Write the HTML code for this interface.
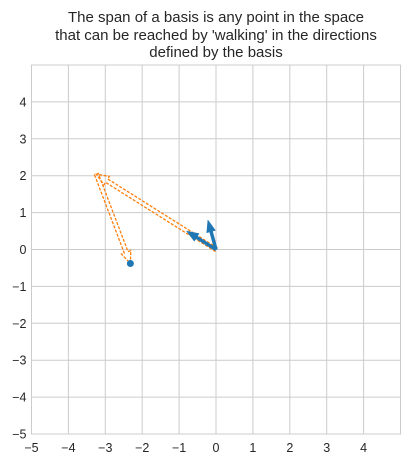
<!DOCTYPE html>
<html><head><meta charset="utf-8"><style>
body{margin:0;background:#fff;font-family:"Liberation Sans",sans-serif}
svg text{font-family:"Liberation Sans",sans-serif;fill:#262626}
</style></head><body>
<svg id="chart" width="410" height="463">
<g id="title">
<text x="216" y="22" font-size="15" text-anchor="middle">The span of a basis is any point in the space</text>
<text x="216" y="40" font-size="15" text-anchor="middle">that can be reached by 'walking' in the directions</text>
<text x="216" y="57" font-size="15" text-anchor="middle">defined by the basis</text>
</g>
<g id="grid"></g><g id="marks"></g><g id="ticks"></g>
</svg>
<script>
const ticks=[-5,-4,-3,-2,-1,0,1,2,3,4];
const basisX=[-0.8,-0.22];
const basisY=[0.5,0.8];
const walkX=[0,-3.24,-2.32];
const walkY=[0,2.04,-0.38];
const L=31.5,R=400.5,T=65,B=434;
const sx=v=>L+(v+5)/10*(R-L), sy=v=>B-(v+5)/10*(B-T);
const NS="http://www.w3.org/2000/svg";
function mk(t,a,p){const e=document.createElementNS(NS,t);for(const k in a)e.setAttribute(k,a[k]);p.appendChild(e);return e;}
const g=document.getElementById('grid'),m=document.getElementById('marks'),tk=document.getElementById('ticks');
ticks.forEach(v=>{
 const lx=mk('line',{x1:sx(v),x2:sx(v),y1:T,y2:B,stroke:'#cccccc','stroke-width':1},g);
 
 
 const ly=mk('line',{x1:L,x2:R,y1:sy(v),y2:sy(v),stroke:'#cccccc','stroke-width':1},g);
 
 
 const tx=mk('text',{x:sx(v),y:B+18,'font-size':12.5,'text-anchor':'middle'},tk);tx.textContent=String(v).replace('-','\u2212');
 
 
 const ty=mk('text',{x:L-5,y:sy(v)+4.5,'font-size':12.5,'text-anchor':'end'},tk);ty.textContent=String(v).replace('-','\u2212');
 
 
});
const fr=mk('rect',{x:L,y:T,width:R-L,height:B-T,fill:'none',stroke:'#cccccc','stroke-width':1},g);


function arrow(x0,y0,x1,y1,w,hw,hl,style){
 const dx=x1-x0,dy=y1-y0,len=Math.hypot(dx,dy),ux=dx/len,uy=dy/len,nx=-uy,ny=ux;
 const bx=x1-ux*hl,by=y1-uy*hl;
 const pts=[[x0+nx*w/2,y0+ny*w/2],[bx+nx*w/2,by+ny*w/2],[bx+nx*hw/2,by+ny*hw/2],[x1,y1],[bx-nx*hw/2,by-ny*hw/2],[bx-nx*w/2,by-ny*w/2],[x0-nx*w/2,y0-ny*w/2]];
 const a=Object.assign({points:pts.map(p=>p.join(',')).join(' ')},style);
 return mk('polygon',a,m);
}
for(let i=0;i<walkX.length-1;i++){
 const p=arrow(sx(walkX[i]),sy(walkY[i]),sx(walkX[i+1]),sy(walkY[i+1]),4,10,12,{fill:'none',stroke:'#ff7f0e','stroke-width':1.3,'stroke-dasharray':'3,1.5'});
 
 
}
for(let i=0;i<basisX.length;i++){
 const p=arrow(sx(0),sy(0),sx(basisX[i]),sy(basisY[i]),3,9,12,{fill:'#1f77b4',stroke:'#1f77b4','stroke-width':0.5});
 
 
}
const d=mk('circle',{cx:sx(walkX[walkX.length-1]),cy:sy(walkY[walkY.length-1]),r:3.5,fill:'#1f77b4'},m);


</script>
</body></html>
